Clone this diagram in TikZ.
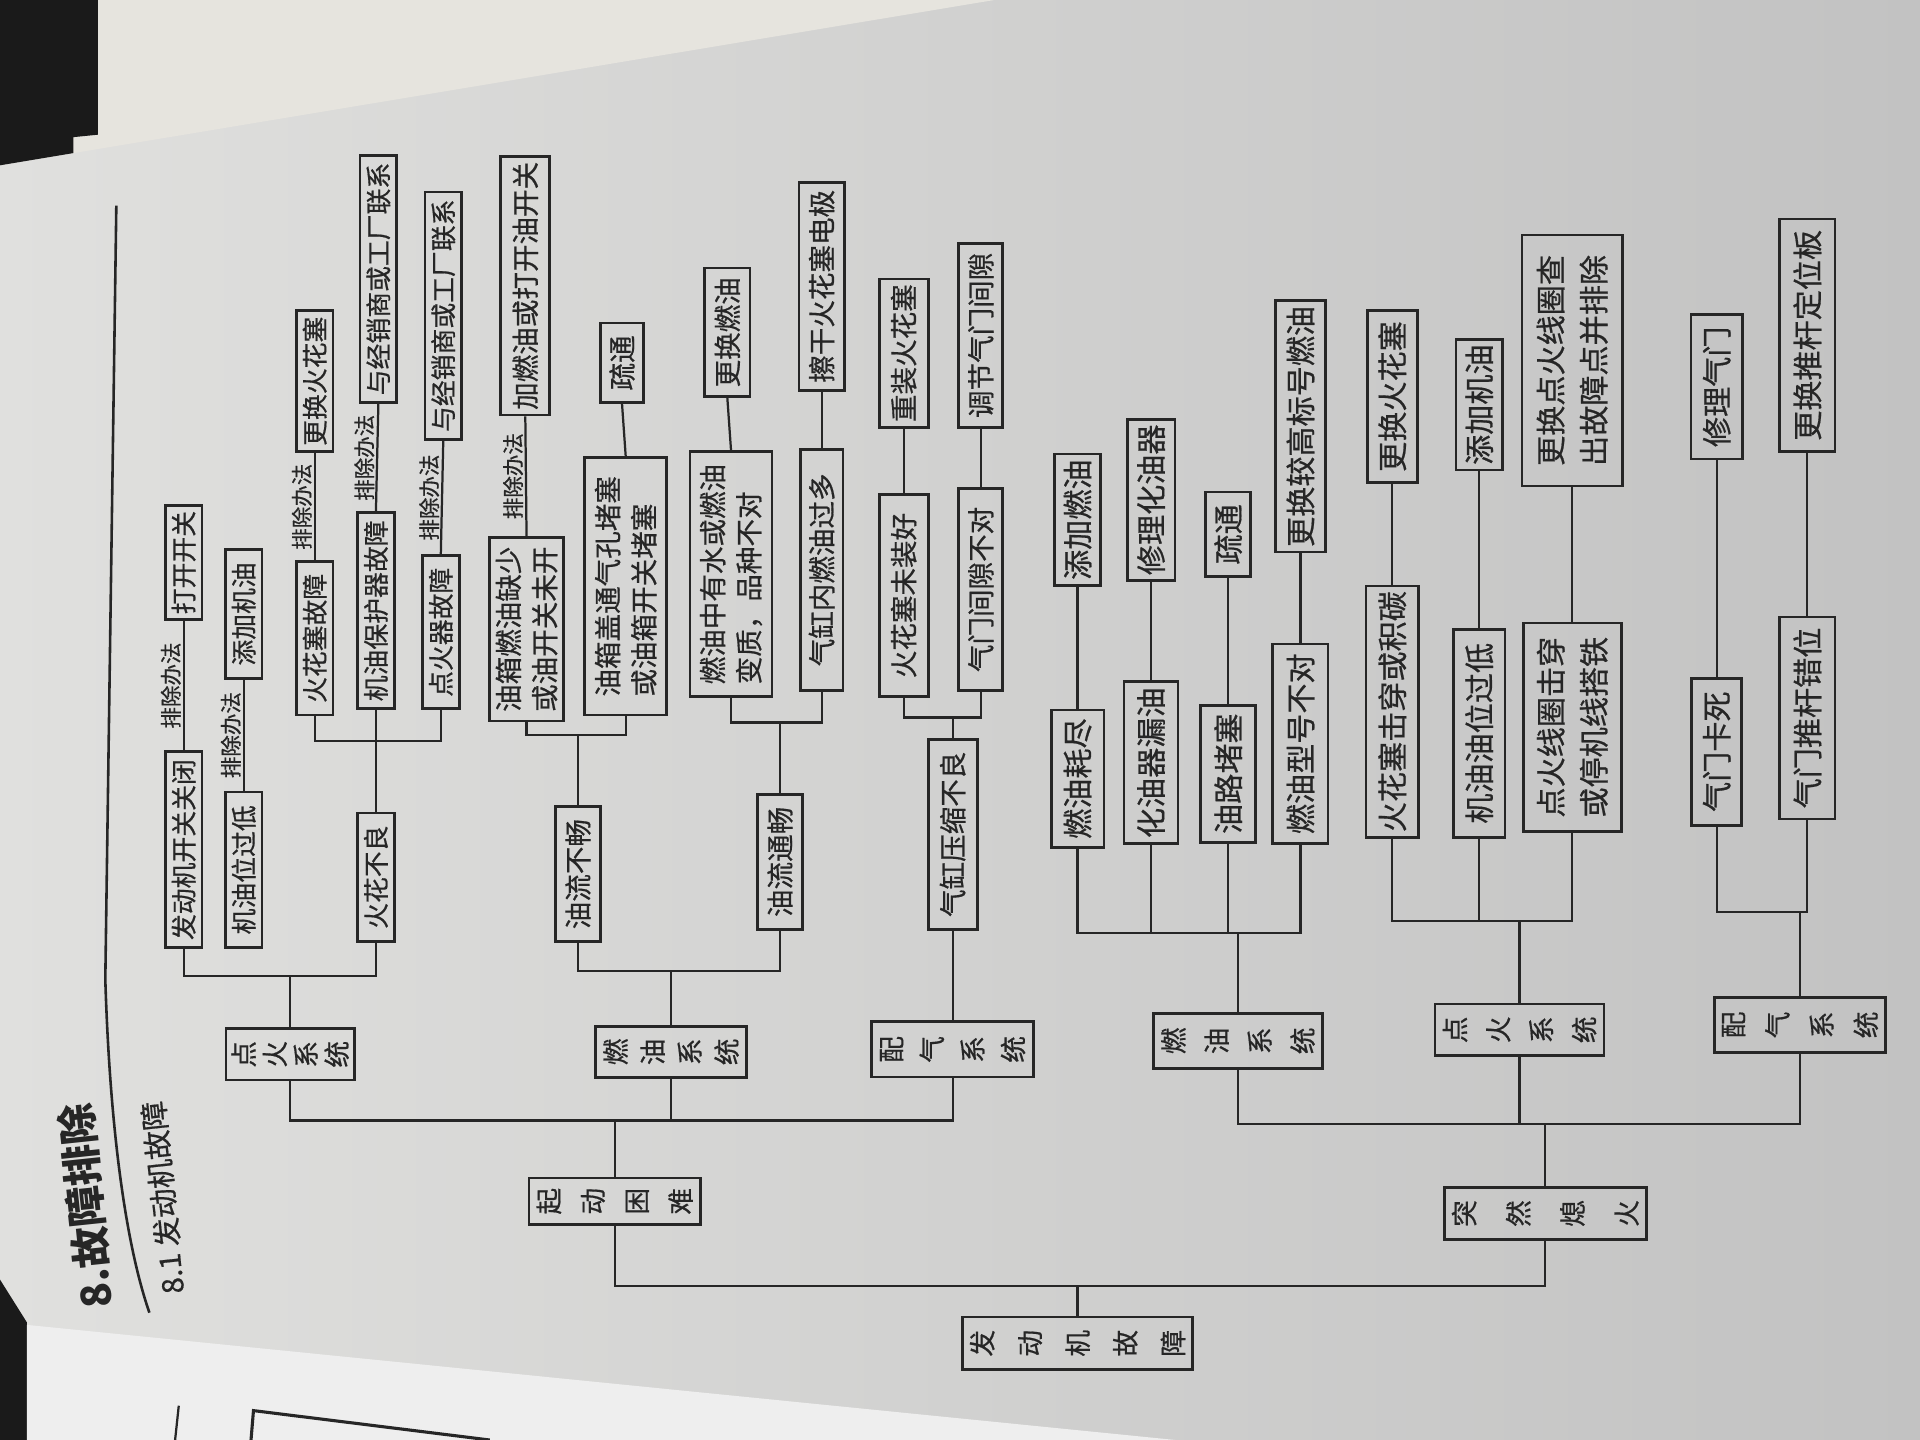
\documentclass[tikz,border=0pt]{standalone}
\usepackage{fontspec}
\newfontfamily\cjk{Noto Sans CJK SC}[FakeBold=0.6]
\newfontfamily\cjkt{Noto Sans CJK SC}

\definecolor{inkc}{RGB}{38,38,38}
\definecolor{pagel}{RGB}{224,224,222}
\definecolor{pager}{RGB}{194,194,194}
\definecolor{sheetc}{RGB}{230,228,222}
\definecolor{darkc}{RGB}{26,26,26}
\definecolor{lowsheet}{RGB}{238,238,238}

\begin{document}
\begin{tikzpicture}[
    x=0.025cm, y=-0.025cm,
    tall/.style={minimum width=#1*0.7113pt},
    wide/.style={minimum height=#1*0.7113pt},
    link/.style={draw=inkc, line width=1.3pt},
    lbox/.style={draw=inkc, line width=1.6pt, rotate=90, anchor=west, inner xsep=3pt, inner ysep=0pt, text=inkc, align=left, font=\cjk\fontsize{15}{20}\selectfont, wide=30},
    mbox/.style={lbox, font=\cjk\fontsize{16}{21}\selectfont, wide=37},
    rbox/.style={lbox, font=\cjk\fontsize{17.5}{25}\selectfont, wide=41},
    sysbox/.style={draw=inkc, line width=1.6pt, rotate=90, align=center, inner sep=0pt, text=inkc, font=\cjk\fontsize{15.5}{#1}\selectfont, tall=43},
    fix/.style={rotate=90, anchor=south, inner sep=1pt, text=inkc, font=\cjk\fontsize{12.5}{14}\selectfont}
]

% Page
\useasboundingbox (0,0) rectangle (1568,1176);
\shade[left color=pagel, right color=pager] (0,0) rectangle (1568,1176);
\fill[sheetc] (0,0) -- (812,0) -- (0,135) -- cycle;
\fill[darkc] (0,0) -- (80,0) -- (80,110) -- (60,112) -- (60,125) -- (0,135) -- cycle;
\fill[darkc] (0,1045) -- (22,1080) -- (22,1176) -- (0,1176) -- cycle;
\fill[lowsheet] (22,1082) -- (960,1176) -- (22,1176) -- cycle;
\draw[inkc, line width=1.3pt] (146,1148) -- (143,1176);
\draw[inkc, line width=1.8pt] (205,1176) -- (207,1152) -- (400,1176);

% Heading
\draw[inkc, line width=1.5pt] (95,168) -- (86,800) .. controls (90,930) and (104,1020) .. (122,1072);
\node[rotate=96, text=inkc, font=\cjkt\bfseries\fontsize{24}{26}\selectfont] (ttl) at (70,985) {8.故障排除};
\node[rotate=96, text=inkc, font=\cjk\fontsize{17}{20}\selectfont] (sub) at (133,978) {8.1 发动机故障};

% Root and first level
\node[sysbox=27.7pt, wide=188, tall=43] (root) at (880,1097) {发\\动\\机\\故\\障};
\node[sysbox=25.5pt, wide=140, tall=38] (qd) at (502,981) {起\\动\\困\\难};
\node[sysbox=31.4pt, wide=165, tall=42] (ttx) at (1262,991) {突\\然\\熄\\火};

% Systems
\node[sysbox=18pt, wide=105, tall=42] (dh1) at (237,861) {点\\火\\系\\统};
\node[sysbox=21.5pt, wide=123, tall=42] (ry1) at (548,859) {燃\\油\\系\\统};
\node[sysbox=23.6pt, wide=132, tall=45] (pq1) at (778,857) {配\\气\\系\\统};
\node[sysbox=25pt, wide=138, tall=45] (ry2) at (1011,850) {燃\\油\\系\\统};
\node[sysbox=25pt, wide=138, tall=42] (dh2) at (1241,841) {点\\火\\系\\统};
\node[sysbox=25.7pt, wide=140, tall=45] (pq2) at (1470,837) {配\\气\\系\\统};

% 起动困难 - 点火系统
\node[lbox, tall=160] (kgg) at (150,775) {发动机开关关闭};
\node[lbox, tall=92] (kgs) at (150,507) {打开开关};
\node[lbox, tall=127] (jyd) at (199,775) {机油位过低};
\node[lbox, tall=105] (jys) at (199,555) {添加机油};
\node[lbox, tall=105] (hbl) at (307,770) {火花不良};
\node[lbox, tall=125] (hhgz) at (257,585) {火花塞故障};
\node[lbox, tall=115] (hhgz2) at (257,370) {更换火花塞};
\node[lbox, tall=160] (jybh) at (307,580) {机油保护器故障};
\node[lbox, tall=202] (jybh2) at (309,330) {与经销商或工厂联系};
\node[lbox, tall=125] (dhq) at (360,580) {点火器故障};
\node[lbox, tall=202] (dhq2) at (362,360) {与经销商或工厂联系};

% 起动困难 - 燃油系统
\node[mbox, tall=110] (ylbc) at (472,770) {油流不畅};
\node[mbox, tall=150, wide=60] (yxq) at (430,590) {油箱燃油缺少\\或油开关未开};
\node[mbox, tall=210, wide=40] (yxq2) at (429,340) {加燃油或打开油开关};
\node[mbox, tall=210, wide=67] (yxd) at (511,585) {油箱盖通气孔堵塞\\或油箱开关堵塞};
\node[mbox, tall=65, wide=35] (yxd2) at (508,330) {疏通};
\node[mbox, tall=110] (ylct) at (637,760) {油流通畅};
\node[mbox, tall=200, wide=67] (ysb) at (597,570) {燃油中有水或燃油\\变质，品种不对};
\node[mbox, tall=105] (ysb2) at (594,325) {更换燃油};
\node[mbox, tall=197, wide=35] (gry) at (671,565) {气缸内燃油过多};
\node[mbox, tall=170] (gry2) at (671,320) {擦干火花塞电极};

% 起动困难 - 配气系统
\node[mbox, tall=155, wide=40] (gys) at (778,760) {气缸压缩不良};
\node[mbox, tall=165, wide=40] (hhw) at (738,570) {火花塞未装好};
\node[mbox, tall=120, wide=40] (hhw2) at (738,350) {重装火花塞};
\node[mbox, tall=165, wide=36] (qmj) at (801,565) {气门间隙不对};
\node[mbox, tall=150, wide=36] (qmj2) at (801,350) {调节气门间隙};

% 突然熄火 - 燃油系统
\node[rbox, tall=112, wide=43] (ryhj) at (880,693) {燃油耗尽};
\node[rbox, tall=107, wide=38] (ryhj2) at (880,479) {添加燃油};
\node[rbox, tall=132, wide=44] (hyq) at (940,690) {化油器漏油};
\node[rbox, tall=128, wide=39] (hyq2) at (940,475) {修理化油器};
\node[rbox, tall=112, wide=45] (ylds) at (1003,689) {油路堵塞};
\node[rbox, tall=69, wide=37] (ylds2) at (1003,472) {疏通};
\node[rbox, tall=163, wide=45] (ryxh) at (1062,690) {燃油型号不对};
\node[rbox, tall=205, wide=41] (ryxh2) at (1062,452) {更换较高标号燃油};

% 突然熄火 - 点火系统
\node[rbox, tall=205, wide=43] (hhjc) at (1137,685) {火花塞击穿或积碳};
\node[rbox, tall=140] (hhjc2) at (1137,395) {更换火花塞};
\node[rbox, tall=170, wide=42] (jyyd) at (1208,685) {机油油位过低};
\node[rbox, tall=105, wide=38] (jyyd2) at (1208,385) {添加机油};
\node[rbox, tall=170, wide=80] (dhxq) at (1284,680) {点火线圈击穿\\或停机线搭铁};
\node[rbox, tall=205, wide=82] (dhxq2) at (1284,398) {更换点火线圈查\\出故障点并排除};

% 突然熄火 - 配气系统
\node[rbox, tall=120] (qmks) at (1402,675) {气门卡死};
\node[rbox, tall=118, wide=42] (qmks2) at (1402,376) {修理气门};
\node[rbox, tall=165, wide=45] (qmtg) at (1476,670) {气门推杆错位};
\node[rbox, tall=190, wide=45] (qmtg2) at (1476,370) {更换推杆定位板};

% Connectors: 点火系统 (起动困难)
\coordinate (busA) at (0,797);
\draw[link] (kgg.west) |- (hbl.west |- busA) -- (hbl.west);
\draw[link] (dh1.east) -- (dh1.east |- busA);
\draw[link] (kgg.east) -- node[fix] {排除办法} (kgs.west);
\draw[link] (jyd.east) -- node[fix] {排除办法} (jys.west);
\coordinate (busB) at (0,605);
\draw[link] (hhgz.west) |- (dhq.west |- busB) -- (dhq.west);
\draw[link] (jybh.west) -- (hbl.east);
\draw[link] (hhgz.east) -- node[fix] {排除办法} (hhgz2.west);
\draw[link] (jybh.east) -- node[fix] {排除办法} (jybh2.west);
\draw[link] (dhq.east) -- node[fix] {排除办法} (dhq2.west);

% Connectors: 燃油系统 (起动困难)
\coordinate (busC) at (0,600);
\draw[link] (yxq.west) |- (yxd.west |- busC) -- (yxd.west);
\draw[link] (ylbc.east) -- (ylbc.east |- busC);
\draw[link] (yxq.east) -- node[fix] {排除办法} (yxq2.west);
\draw[link] (yxd.east) -- (yxd2.west);
\coordinate (busD) at (0,590);
\draw[link] (ysb.west) |- (gry.west |- busD) -- (gry.west);
\draw[link] (ylct.east) -- (ylct.east |- busD);
\draw[link] (ysb.east) -- (ysb2.west);
\draw[link] (gry.east) -- (gry2.west);
\coordinate (busE) at (0,793);
\draw[link] (ylbc.west) |- (ylct.west |- busE) -- (ylct.west);
\draw[link] (ry1.east) -- (ry1.east |- busE);

% Connectors: 配气系统 (起动困难)
\coordinate (busF) at (0,586);
\draw[link] (hhw.west) |- (qmj.west |- busF) -- (qmj.west);
\draw[link] (gys.east) -- (gys.east |- busF);
\draw[link] (hhw.east) -- (hhw2.west);
\draw[link] (qmj.east) -- (qmj2.west);
\draw[link] (gys.west) -- (pq1.east);

% Connectors: 起动困难, root
\coordinate (busG) at (0,915);
\draw[link] (dh1.west) |- (pq1.west |- busG) -- (pq1.west);
\draw[link] (ry1.west) -- (ry1.west |- busG);
\draw[link] (qd.east) -- (qd.east |- busG);
\coordinate (busH) at (0,1050);
\draw[link] (qd.west) |- (ttx.west |- busH) -- (ttx.west);
\draw[link] (root.east) -- (root.east |- busH);

% Connectors: 突然熄火
\coordinate (busI) at (0,918);
\draw[link] (ry2.west) |- (pq2.west |- busI) -- (pq2.west);
\draw[link] (dh2.west) -- (dh2.west |- busI);
\draw[link] (ttx.east) -- (ttx.east |- busI);
\coordinate (busJ) at (0,762);
\draw[link] (ryhj.west) |- (ryxh.west |- busJ) -- (ryxh.west);
\draw[link] (hyq.west) -- (hyq.west |- busJ);
\draw[link] (ylds.west) -- (ylds.west |- busJ);
\draw[link] (ry2.east) -- (ry2.east |- busJ);
\draw[link] (ryhj.east) -- (ryhj2.west);
\draw[link] (hyq.east) -- (hyq2.west);
\draw[link] (ylds.east) -- (ylds2.west);
\draw[link] (ryxh.east) -- (ryxh2.west);
\coordinate (busK) at (0,752);
\draw[link] (hhjc.west) |- (dhxq.west |- busK) -- (dhxq.west);
\draw[link] (jyyd.west) -- (jyyd.west |- busK);
\draw[link] (dh2.east) -- (dh2.east |- busK);
\draw[link] (hhjc.east) -- (hhjc2.west);
\draw[link] (jyyd.east) -- (jyyd2.west);
\draw[link] (dhxq.east) -- (dhxq2.west);
\coordinate (busL) at (0,745);
\draw[link] (qmks.west) |- (qmtg.west |- busL) -- (qmtg.west);
\draw[link] (pq2.east) -- (pq2.east |- busL);
\draw[link] (qmks.east) -- (qmks2.west);
\draw[link] (qmtg.east) -- (qmtg2.west);

\end{tikzpicture}
\end{document}
